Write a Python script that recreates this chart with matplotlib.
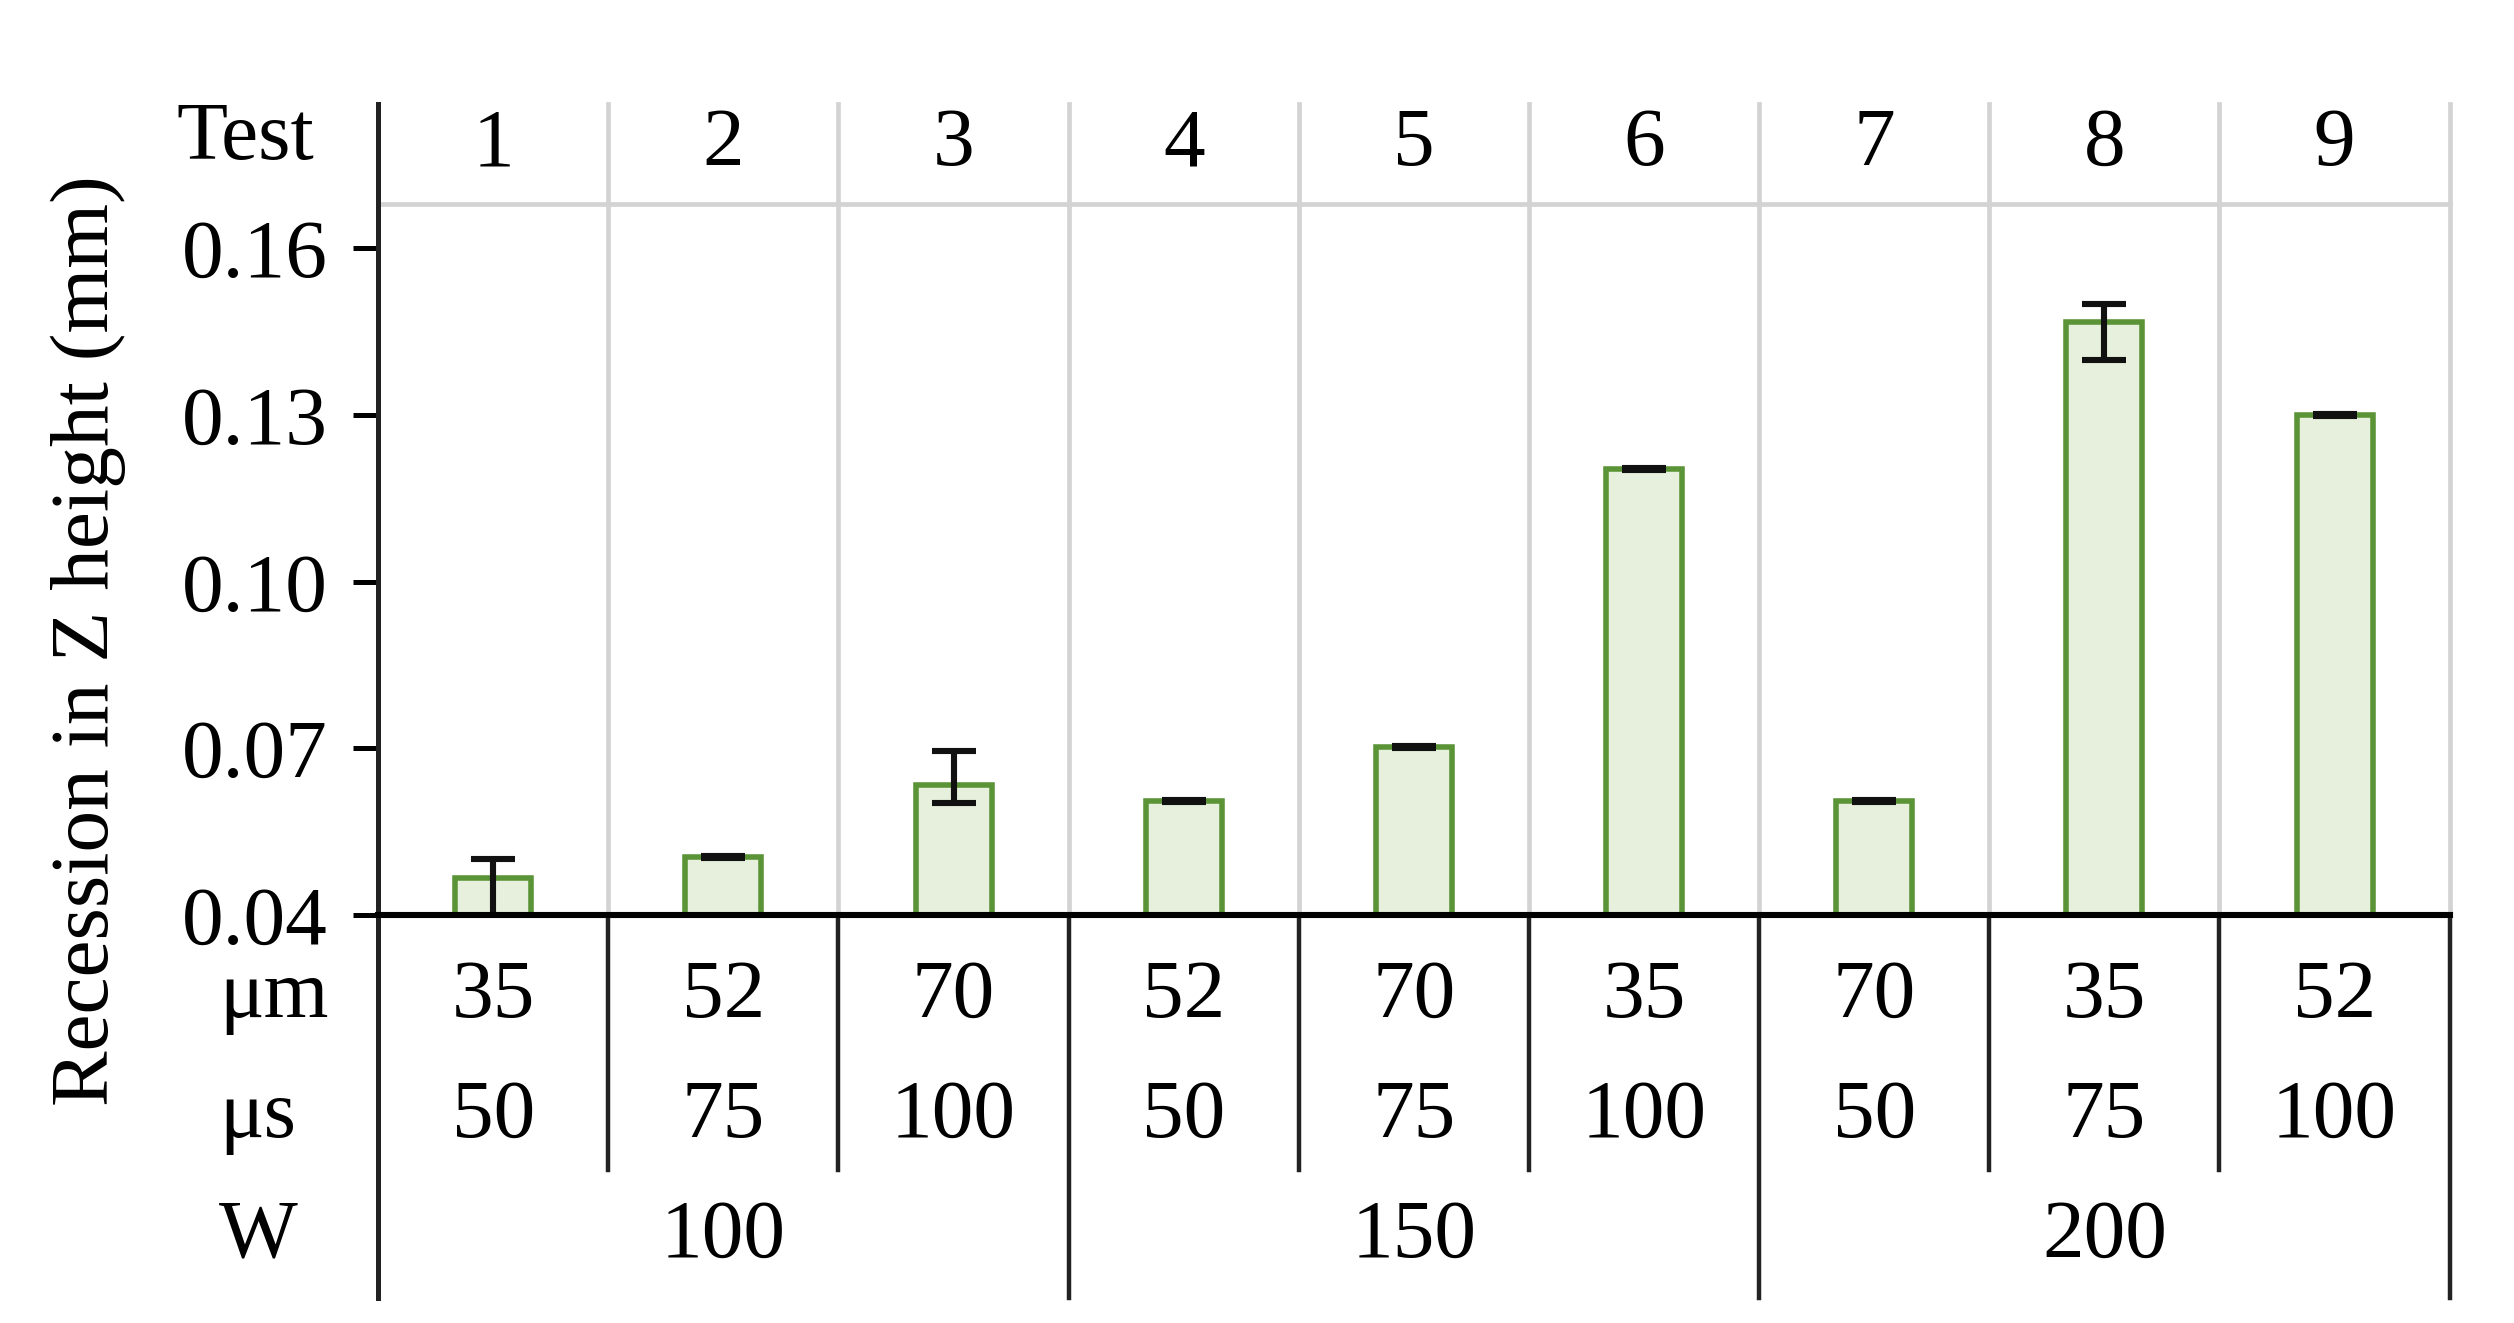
import matplotlib
matplotlib.use('Agg')
import matplotlib.pyplot as plt

# Test matrix data
tests = ['1', '2', '3', '4', '5', '6', '7', '8', '9']
spot_um = ['35', '52', '70', '52', '70', '35', '70', '35', '52']
pulse_us = ['50', '75', '100', '50', '75', '100', '50', '75', '100']
power_w = ['100', '150', '200']
recession = [0.0467, 0.0504, 0.0634, 0.0605, 0.0703, 0.1202, 0.0605, 0.1467, 0.1300]
err_low = [0.0080, 0.0002, 0.0033, 0.0002, 0.0002, 0.0002, 0.0002, 0.0069, 0.0002]
err_high = [0.0034, 0.0002, 0.0061, 0.0002, 0.0002, 0.0002, 0.0002, 0.0032, 0.0002]
y_ticks = [0.04, 0.07, 0.10, 0.13, 0.16]

plt.rcParams['font.family'] = ['Liberation Serif', 'DejaVu Serif']
plt.rcParams['font.size'] = 30

fig = plt.figure(figsize=(12.57, 6.615), dpi=200)
ax = fig.add_axes([0.1504, 0.3084, 0.824, 0.5376])

x = list(range(len(tests)))
grid_color = '#d3d3d3'
dark = '#222222'

# Bars with error bars
ax.bar(x, recession, width=0.33, color='#e6f0dc', edgecolor='#5a9436',
       linewidth=2.0, zorder=3)
ax.errorbar(x, recession, yerr=[err_low, err_high], fmt='none', ecolor='#111111',
            elinewidth=2.2, capsize=8, capthick=2.2, zorder=4)

ax.set_xlim(-0.5, len(tests) - 0.5)
ax.set_ylim(0.04, 0.168)
ax.set_yticks(y_ticks)
ax.set_yticklabels(['%.2f' % t for t in y_ticks])
ax.set_xticks([])
ax.tick_params(axis='y', direction='out', length=9, width=1.8, pad=9, colors='black')

for side in ['top', 'right']:
    ax.spines[side].set_visible(False)
ax.spines['bottom'].set_linewidth(2.2)
ax.spines['bottom'].set_color('black')
ax.spines['bottom'].set_zorder(5)
ax.spines['left'].set_visible(False)

trans = ax.get_xaxis_transform()
header_top = 1.1396

# Vertical light grid lines between tests (and header area)
for b in [i + 0.5 for i in x]:
    ax.plot([b, b], [0, header_top], color=grid_color, linewidth=1.7,
            transform=trans, clip_on=False, zorder=1)
# Header line under test numbers
ax.plot([-0.5, len(tests) - 0.5], [1, 1], color=grid_color, linewidth=1.7,
        transform=trans, clip_on=False, zorder=1)
# Left axis line extended over the whole table
ax.plot([-0.5, -0.5], [-0.538, header_top], color=dark, linewidth=1.8,
        transform=trans, clip_on=False, zorder=5)

# Dividers in the bottom table
for i in range(1, len(tests) + 1):
    b = i - 0.5
    if i % 3 == 0:
        bottom = -0.538
    else:
        bottom = -0.358
    ax.plot([b, b], [0, bottom], color=dark, linewidth=1.6,
            transform=trans, clip_on=False, zorder=5)

# Header row: test numbers
ax.text(-1.078, 1.090, 'Test', transform=trans, ha='center', va='center')
for i, t in enumerate(tests):
    ax.text(i, 1.082, t, transform=trans, ha='center', va='center')

# Table rows below the axis
ax.text(-1.19, -0.116, 'μm', transform=trans, ha='left', va='center')
ax.text(-1.19, -0.284, 'μs', transform=trans, ha='left', va='center')
ax.text(-1.19, -0.453, 'W', transform=trans, ha='left', va='center')
for i in x:
    ax.text(i, -0.116, spot_um[i], transform=trans, ha='center', va='center')
    ax.text(i, -0.284, pulse_us[i], transform=trans, ha='center', va='center')
for g, w in enumerate(power_w):
    ax.text(g * 3 + 1, -0.453, w, transform=trans, ha='center', va='center')

fig.text(0.035, 0.5155, 'Recession in Z height (mm)', rotation=90,
         ha='center', va='center', fontsize=30)

fig.savefig('out.png', dpi=200)
